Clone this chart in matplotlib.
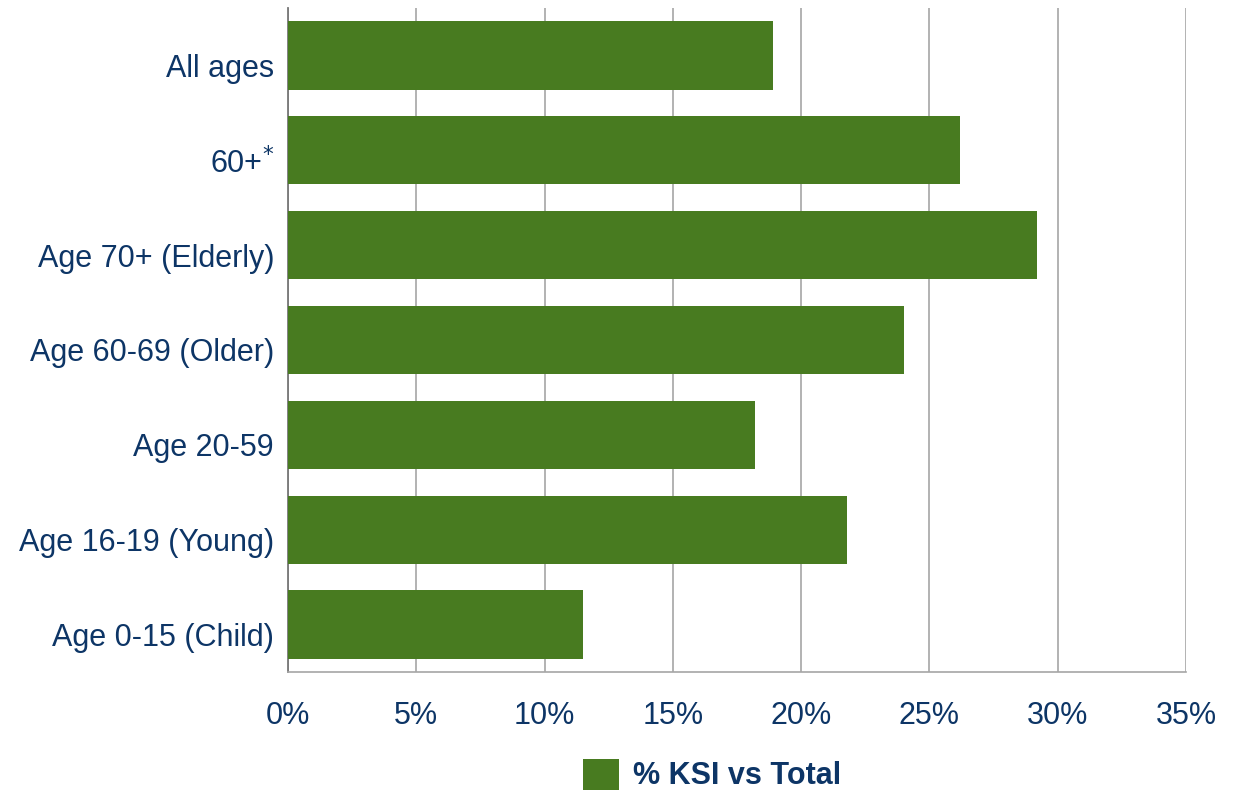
import matplotlib.pyplot as plt
import matplotlib.transforms as mtransforms
import numpy as np

plt.rcParams['font.family'] = ['Liberation Sans', 'DejaVu Sans']

categories = ["All ages", "60+$^{*}$", "Age 70+ (Elderly)", "Age 60-69 (Older)",
              "Age 20-59", "Age 16-19 (Young)", "Age 0-15 (Child)"]
ksi_pct = [18.9, 26.2, 29.2, 24.0, 18.2, 21.8, 11.5]
xticks = [0, 5, 10, 15, 20, 25, 30, 35]

text_col = '#0d3566'
bar_col = '#487b20'

fig = plt.figure(figsize=(12.4, 7.92), dpi=100)
ax = fig.add_axes([288/1240, 1 - 672/792, (1186-288)/1240, (672-8)/792])

y = np.arange(len(categories))[::-1]
ax.barh(y, ksi_pct, height=0.72, color=bar_col, zorder=3, label='% KSI vs Total')

ax.set_xlim(0, 35)
ax.set_ylim(-0.5, len(categories) - 0.5)
ax.set_xticks(xticks)
ax.set_xticklabels([f"{t}%" for t in xticks], fontsize=22, color=text_col)
ax.set_yticks(y)
ax.set_yticklabels(categories, fontsize=22, color=text_col)
ax.tick_params(axis='x', length=0, pad=21)
ax.tick_params(axis='y', length=0, pad=10)

# labels sit a little below the bar centres in the original
shift = mtransforms.ScaledTranslation(0, -0.10, fig.dpi_scale_trans)
for lab in ax.get_yticklabels():
    lab.set_transform(lab.get_transform() + shift)

ax.grid(axis='x', color='#a6a6a6', linewidth=1.2, zorder=0)
for s in ['top', 'right']:
    ax.spines[s].set_visible(False)
ax.spines['left'].set_color('#777777')
ax.spines['left'].set_linewidth(1.3)
ax.spines['bottom'].set_color('#a6a6a6')
ax.spines['bottom'].set_linewidth(1.2)

leg = fig.legend(loc='center', bbox_to_anchor=(712/1240, 1 - 775/792), frameon=False,
                 prop={'weight': 'bold', 'size': 22}, handlelength=1.2, handleheight=1.2,
                 handletextpad=0.45)
for t in leg.get_texts():
    t.set_color(text_col)

fig.savefig('out.png', dpi=100)
